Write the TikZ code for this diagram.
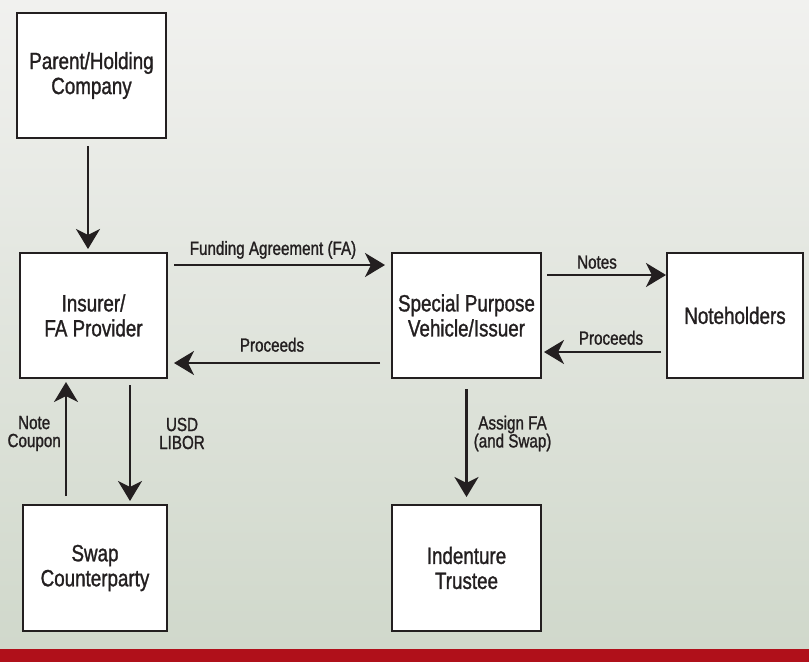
\documentclass[tikz,border=0pt]{standalone}
\usepackage{fontspec}
\setmainfont{Liberation Sans}[FakeStretch=0.8, FakeBold=1.2]
\usetikzlibrary{arrows.meta}

\definecolor{fabInk}{RGB}{35,31,32}
\definecolor{fabTop}{RGB}{241,241,239}
\definecolor{fabBottom}{RGB}{208,216,203}
\definecolor{fabRed}{RGB}{176,16,26}

\begin{document}
\begin{tikzpicture}[x=1pt, y=-1pt]
            \tikzset{box/.style={draw=fabInk, line width=2pt, fill=white, align=center, text=fabInk, inner sep=0pt, font=\fontsize{23.5}{25}\selectfont}}
            \tikzset{flow/.style={-{Stealth[length=20pt, width=24pt, inset=6pt]}, line width=2.4pt, draw=fabInk}}
            \tikzset{lbl/.style={text=fabInk, align=center, inner sep=2pt, font=\fontsize{19}{18}\selectfont}}

            \useasboundingbox (0,0) rectangle (809,662);
            \shade[top color=fabTop, bottom color=fabBottom] (0,0) rectangle (809,649);
            \fill[fabRed] (0,649) rectangle (809,662);

            \node[box, minimum width=149pt, minimum height=125pt] (parent) at (91.5,75.5) {Parent/Holding\\Company};

            \node[box, minimum width=147pt, minimum height=125pt] (insurer) at (93.5,315.5) {Insurer/\\FA Provider};
            \node[box, minimum width=149pt, minimum height=125pt] (spv) at (466.5,315.5) {Special Purpose\\Vehicle/Issuer};
            \node[box, minimum width=136pt, minimum height=125pt] (holders) at (735,315.5) {Noteholders};

            \node[box, minimum width=144pt, minimum height=126pt] (swap) at (95,568) {Swap\\Counterparty};
            \node[box, minimum width=149pt, minimum height=126pt] (trustee) at (466.5,568) {Indenture\\Trustee};

            \draw[flow, shorten <=7pt, shorten >=3pt] ([xshift=-3.5pt]parent.south) -- ([xshift=-3.5pt]parent.south |- insurer.north);

            \draw[flow, shorten <=6pt, shorten >=6pt] ([yshift=50.5pt]insurer.east) -- node[lbl, above=3pt, xshift=-6.5pt] {Funding Agreement (FA)} ([yshift=50.5pt]spv.west);
            \draw[flow, shorten <=11pt, shorten >=6pt] ([yshift=-47.5pt]spv.west) -- node[lbl, above=8pt, xshift=-7.5pt] {Proceeds} ([yshift=-47.5pt]insurer.east);

            \draw[flow, shorten <=5pt, shorten >=0pt] ([yshift=40.5pt]spv.east) -- node[lbl, above=3pt, xshift=-7pt] {Notes} ([yshift=40.5pt]holders.west);
            \draw[flow, shorten <=5pt, shorten >=2pt] ([yshift=-36.5pt]holders.west) -- node[lbl, above=4pt, xshift=7pt] {Proceeds} ([yshift=-36.5pt]spv.east);

            \draw[flow, shorten <=8pt, shorten >=3pt] ([xshift=-29pt]swap.north) -- node[lbl, left=2pt, yshift=8pt] {Note\\Coupon} ([xshift=-29pt]swap.north |- insurer.south);
            \draw[flow, shorten <=6pt, shorten >=3pt] ([xshift=36.5pt]insurer.south) -- node[lbl, right=26pt, yshift=8pt] {USD\\LIBOR} ([xshift=36.5pt]insurer.south |- swap.north);

            \draw[flow, shorten <=10pt, shorten >=7pt] (spv.south) -- node[lbl, right=4pt, yshift=8pt] {Assign FA\\(and Swap)} (trustee.north);
        \end{tikzpicture}
\end{document}
